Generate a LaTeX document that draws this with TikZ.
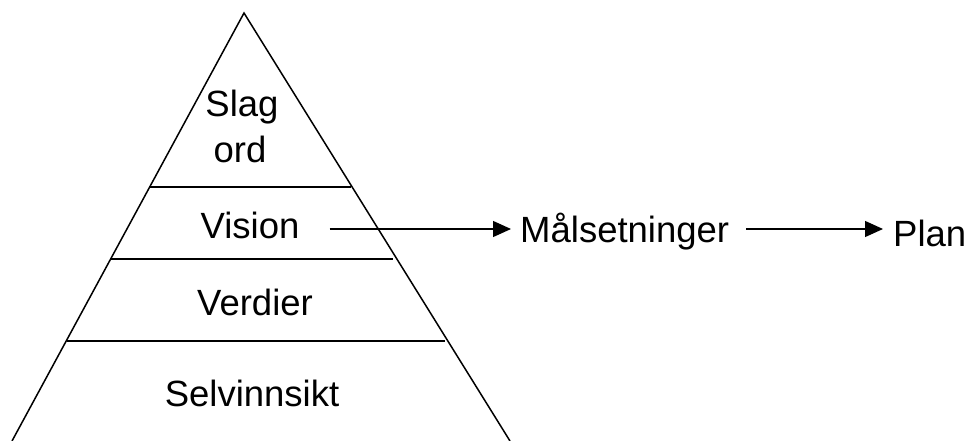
\documentclass[tikz,border=0pt]{standalone}
\usepackage{fontspec}
\setmainfont{Liberation Sans}
\usepackage{tikz}
\usetikzlibrary{arrows.meta}
\tikzset{
  level text/.style={font=\fontsize{36.5}{40}\selectfont,inner sep=0pt,
    text height=26pt,text depth=8pt,anchor=base},
  step line/.style={line width=1.5pt},
  flow/.style={-{Triangle[length=18pt,width=16pt]},line width=1.2pt}
}

\begin{document}
\begin{tikzpicture}[x=1pt,y=-1pt]
        \useasboundingbox (0,0) rectangle (969,441);
        % pyramid
        \coordinate (top) at (244,13);
        \coordinate (bl) at (12,441);
        \coordinate (br) at (510,441);
        \draw [line width=1.5pt] (bl) -- (top) -- (br);
        \draw [step line] (149,187) -- (351,187);
        \draw [line width=2.6pt] (110,259) -- (393,259);
        \draw [step line] (67,341) -- (445,341);
        % levels
        \node [level text] (slag) at (242,117) {Slag};
        \node [level text] (ord) at (240,163) {ord};
        \node [level text] (vision) at (250,238) {Vision};
        \node [level text] (verdier) at (255,315) {Verdier};
        \node [level text] (selv) at (252,406) {Selvinnsikt};
        % chain to the right
        \node [level text,anchor=base west] (maal) at (520,242) {Målsetninger};
        \node [level text,anchor=base west] (plan) at (893,246) {Plan};
        \draw [flow,shorten <=30pt,shorten >=9pt] (vision.east) -- (vision.east -| maal.west);
        \draw [flow,shorten <=17pt,shorten >=10pt] (maal.east |- vision.east) -- (vision.east -| plan.west);
      \end{tikzpicture}
\end{document}
